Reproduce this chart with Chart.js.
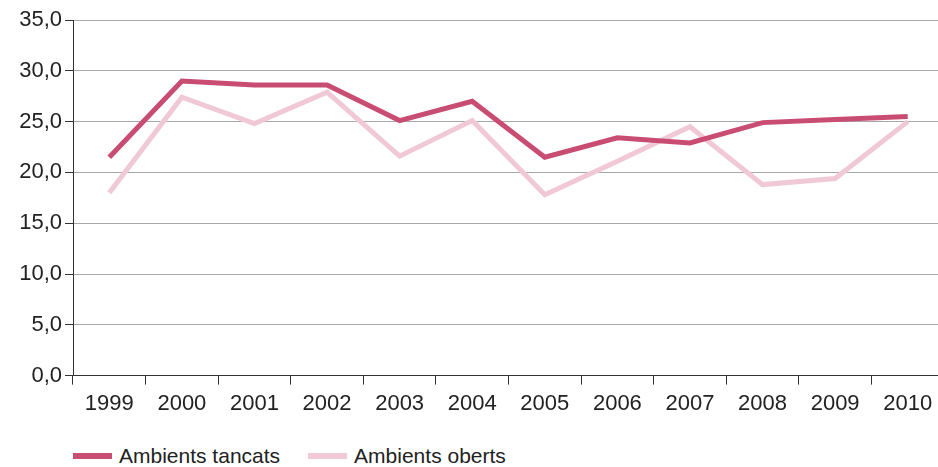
<!DOCTYPE html>
<html>
<head>
<meta charset="utf-8">
<script src="https://cdn.jsdelivr.net/npm/chart.js@4/dist/chart.umd.min.js"></script>
<style>
  html, body { margin: 0; padding: 0; background: #fff; overflow: hidden; width: 938px; height: 467px; }
  #wrap { position: absolute; left: 0; top: 0; width: 944px; height: 425px; }
  #legend { position: absolute; left: 73px; top: 444px; display: flex; gap: 28px;
            font-family: "Liberation Sans", Arial, sans-serif; font-size: 21px; color: #222; }
  #legend span.item { display: flex; align-items: center; }
  #legend span.sw { display: inline-block; width: 39px; height: 6px; margin-right: 7px; }
</style>
</head>
<body>
<div id="wrap"><canvas id="chart"></canvas></div>
<div id="legend"></div>
<script>
const years = ["1999", "2000", "2001", "2002", "2003", "2004", "2005", "2006", "2007", "2008", "2009", "2010"];
const tancats = [21.5, 29.0, 28.6, 28.6, 25.1, 27.0, 21.5, 23.4, 22.9, 24.9, 25.2, 25.5];
const oberts = [18.0, 27.4, 24.8, 27.9, 21.6, 25.1, 17.8, 21.1, 24.5, 18.8, 19.4, 25.0];
const seriesNames = ["Ambients tancats", "Ambients oberts"];
const colors = ["#c94d72", "#f1c9d6"];

const font = { family: "'Liberation Sans', Arial, sans-serif", size: 22 };

const datasets = [tancats, oberts].map((vals, i) => ({
  label: seriesNames[i],
  data: vals,
  borderColor: colors[i],
  backgroundColor: colors[i],
  borderWidth: 5,
  pointRadius: 0,
  tension: 0,
  borderJoinStyle: "miter"
}));

new Chart(document.getElementById("chart"), {
  type: "line",
  data: { labels: years, datasets },
  options: {
    responsive: true,
    maintainAspectRatio: false,
    animation: false,
    layout: { padding: { top: 20, right: 0, bottom: 2, left: 0 } },
    plugins: { legend: { display: false }, tooltip: { enabled: false } },
    scales: {
      x: {
        offset: true,
        grid: { offset: true, drawOnChartArea: false, tickLength: 9, color: "#333" },
        border: { color: "#333", width: 1 },
        ticks: { font, color: "#222", padding: 6, maxRotation: 0 }
      },
      y: {
        min: 0,
        max: 35,
        afterFit: s => { s.width = 73; },
        grid: { color: "#a8a8a8", tickColor: "#333", tickLength: 8 },
        border: { color: "#333", width: 1 },
        ticks: {
          stepSize: 5,
          font,
          color: "#222",
          padding: 3,
          callback: v => v.toFixed(1).replace(".", ",")
        }
      }
    }
  }
});

const legend = document.getElementById("legend");
seriesNames.forEach((name, i) => {
  const item = document.createElement("span");
  item.className = "item";
  item.innerHTML = '<span class="sw" style="background:' + colors[i] + '"></span>' + name;
  legend.appendChild(item);
});
</script>
</body>
</html>
